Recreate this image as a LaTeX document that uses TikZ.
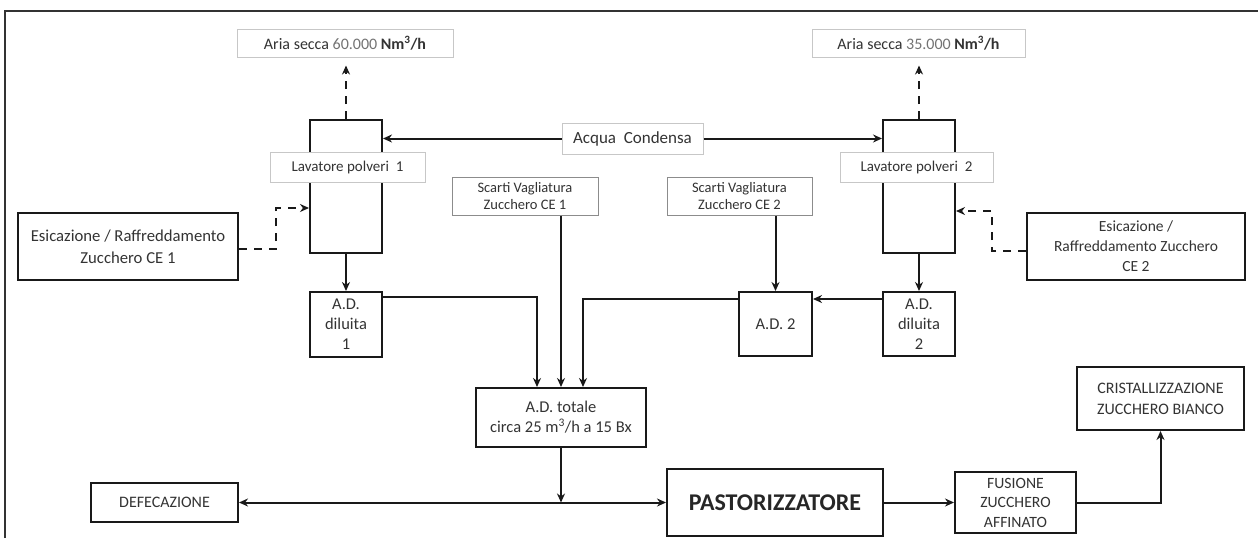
\documentclass[tikz,border=0pt]{standalone}
\usepackage{fontspec}
\setmainfont{Carlito}
\usetikzlibrary{arrows.meta,calc}
\tikzset{
  box/.style={draw=black!90, line width=2pt, inner sep=0pt, align=center, text=black!80, font=\fontsize{16.5}{20}\selectfont},
  lbox/.style={draw=black!22, line width=1pt, fill=white, inner sep=0pt, align=center, text=black!80, font=\fontsize{15}{17}\selectfont},
  conn/.style={line width=2pt, draw=black!90, -{Stealth[length=9pt,width=8pt]}},
  dconn/.style={conn, dash pattern=on 8pt off 7pt},
}
\begin{document}
\begin{tikzpicture}[x=1pt,y=-1pt]
\useasboundingbox (0,0) rectangle (1258,538);
% frame
\draw[line width=1.4pt, black!80] (5,538) -- (5,11) -- (1258,11);
% nodes
\node[lbox, minimum width=216pt, minimum height=28pt, font=\fontsize{16}{17}\selectfont] (aria1) at (345,43) {Aria secca {\color{black!55}60.000} \textbf{Nm\textsuperscript{3}/h}};
\node[lbox, minimum width=213pt, minimum height=28pt, font=\fontsize{16}{17}\selectfont] (aria2) at (918.5,43) {Aria secca {\color{black!55}35.000} \textbf{Nm\textsuperscript{3}/h}};
\node[box, minimum width=72pt, minimum height=133pt] (lav1) at (346,186.5) {};
\node[box, minimum width=72pt, minimum height=133pt] (lav2) at (919,186.5) {};
\node[lbox, minimum width=155pt, minimum height=30pt] (lab1) at (347.5,167) {Lavatore polveri\ \ 1};
\node[lbox, minimum width=153pt, minimum height=30pt] (lab2) at (916.5,167) {Lavatore polveri\ \ 2};
\node[lbox, minimum width=141pt, minimum height=31pt, font=\fontsize{17}{17}\selectfont] (acqua) at (632.5,138.5) {Acqua\ \ Condensa};
\node[lbox, draw=black!45, minimum width=146pt, minimum height=38pt, font=\fontsize{14.5}{17}\selectfont] (scarti1) at (525,196) {Scarti Vagliatura\\Zucchero CE 1};
\node[lbox, draw=black!45, minimum width=145pt, minimum height=38pt, font=\fontsize{14.5}{17}\selectfont] (scarti2) at (739.5,196) {Scarti Vagliatura\\Zucchero CE 2};
\node[box, minimum width=220pt, minimum height=67pt, font=\fontsize{16.7}{22}\selectfont] (esic1) at (128,246.5) {Esicazione / Raffreddamento\\Zucchero CE 1};
\node[box, minimum width=218pt, minimum height=67pt, font=\fontsize{15.5}{20}\selectfont] (esic2) at (1136,246.5) {Esicazione /\\Raffreddamento Zucchero\\CE 2};
\node[box, minimum width=72pt, minimum height=65pt] (dil1) at (346,324.5) {A.D.\\diluita\\1};
\node[box, minimum width=72pt, minimum height=64pt] (dil2) at (919,324) {A.D.\\diluita\\2};
\node[box, minimum width=73pt, minimum height=64pt] (ad2) at (775.5,324) {A.D.\ 2};
\node[box, minimum width=170pt, minimum height=59pt] (tot) at (561,417.5) {A.D. totale\\circa 25 m\textsuperscript{3}/h a 15 Bx};
\node[box, minimum width=147pt, minimum height=39pt, font=\fontsize{16}{20}\selectfont] (def) at (164.5,502.5) {DEFECAZIONE};
\node[box, minimum width=216pt, minimum height=67pt, font=\fontsize{24}{26}\selectfont\bfseries, text=black!85] (past) at (775,502.5) {PASTORIZZATORE};
\node[box, minimum width=121pt, minimum height=61pt, font=\fontsize{15.7}{19.5}\selectfont] (fus) at (1015.5,502.5) {FUSIONE\\ZUCCHERO\\AFFINATO};
\node[box, minimum width=167pt, minimum height=63pt, font=\fontsize{16}{21}\selectfont] (crist) at (1160.5,398.5) {CRISTALLIZZAZIONE\\ZUCCHERO BIANCO};
% connectors
\draw[dconn, shorten >=8pt] (lav1.north) -- (aria1.south -| lav1.north);
\draw[dconn, shorten >=8pt] (lav2.north) -- (aria2.south -| lav2.north);
\draw[conn] (acqua.west) -- (lav1.east |- acqua.west);
\draw[conn] (acqua.east) -- (lav2.west |- acqua.east);
\coordinate (in1) at ($(lav1.north west)+(0,89)$);
\coordinate (in2) at ($(lav2.north east)+(0,92)$);
\draw[dconn] ($(esic1.east)+(0,2.5)$) -- ++(37,0) |- (in1);
\draw[dconn] ($(esic2.west)+(0,4.5)$) -- ++(-34,0) |- (in2);
\draw[conn] (lav1.south) -- (dil1.north);
\draw[conn] (lav2.south) -- (dil2.north);
\draw[conn] (scarti2.south -| ad2.north) -- (ad2.north);
\draw[conn] ($(dil2.north west)+(0,8)$) -- ($(ad2.north east)+(0,8)$);
\draw[conn] ($(dil1.north east)+(0,6)$) -| ($(tot.north)+(-24,0)$);
\draw[conn] (scarti1.south -| tot.north) -- (tot.north);
\draw[conn] ($(ad2.north west)+(0,8)$) -| ($(tot.north)+(22,0)$);
\coordinate (j) at (tot.south |- def.east);
\draw[conn] (tot.south) -- (j);
\draw[conn, {Stealth[length=9pt,width=8pt]}-{Stealth[length=9pt,width=8pt]}] (def.east) -- (past.west);
\draw[conn] (past.east) -- (fus.west);
\draw[conn] (fus.east) -| (crist.south);
\end{tikzpicture}
\end{document}
